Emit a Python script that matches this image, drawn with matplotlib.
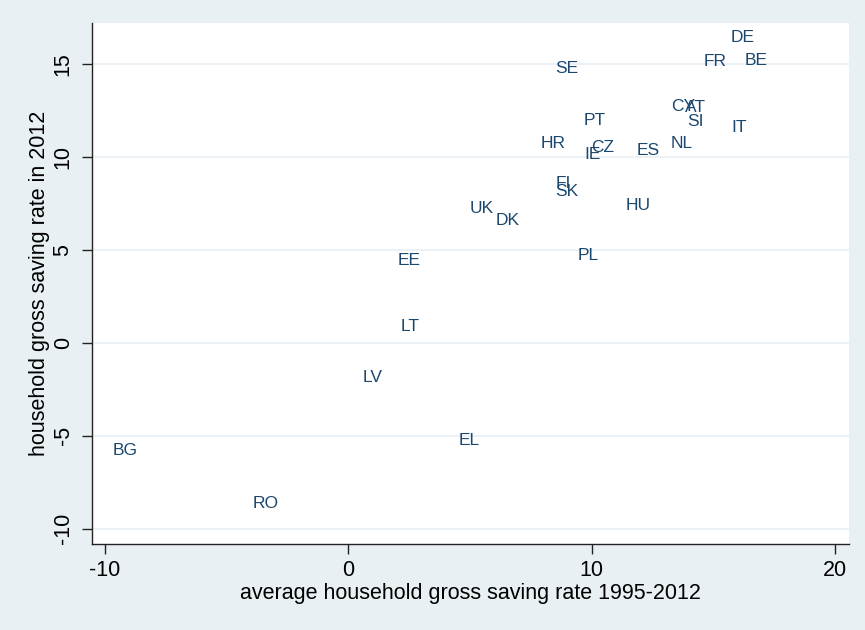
import matplotlib
matplotlib.use("Agg")
import matplotlib.pyplot as plt

# Country codes with average saving rate 1995-2012 (x) and 2012 rate (y)
countries = ["DE", "FR", "BE", "SE", "CY", "AT", "SI", "IT", "PT", "HR",
             "CZ", "IE", "ES", "NL", "FI", "SK", "UK", "DK", "HU", "PL",
             "EE", "LT", "LV", "EL", "BG", "RO"]
avg_rate = [15.70, 14.59, 16.28, 8.50, 13.27, 13.85, 13.93, 15.74, 9.69, 7.92,
            9.98, 9.69, 11.87, 13.23, 8.54, 8.50, 5.00, 6.07, 11.42, 9.44,
            2.04, 2.16, 0.60, 4.55, -9.69, -3.93]
rate_2012 = [16.45, 15.16, 15.22, 14.78, 12.74, 12.69, 11.94, 11.61, 11.99, 10.75,
             10.54, 10.16, 10.38, 10.75, 8.60, 8.17, 7.26, 6.61, 7.42, 4.73,
             4.46, 0.86, -1.88, -5.27, -5.81, -8.66]

xticks = [-10, 0, 10, 20]
yticks = [-10, -5, 0, 5, 10, 15]

plt.rcParams['font.family'] = ['Liberation Sans', 'DejaVu Sans']
plt.rcParams['axes.unicode_minus'] = False

bg = '#e9f0f3'
label_color = '#1a476f'

fig = plt.figure(figsize=(8.65, 6.3), dpi=100, facecolor=bg)
ax = fig.add_axes([0.106, 0.137, 0.876, 0.826])
ax.set_facecolor('white')

# labels only, no markers
for name, x, y in zip(countries, avg_rate, rate_2012):
    ax.text(x, y, name, ha='left', va='center', fontsize=12.5, color=label_color)

ax.set_xlim(-10.55, 20.6)
ax.set_ylim(-10.8, 17.2)
ax.set_xticks(xticks)
ax.set_yticks(yticks)
ax.set_yticklabels([str(v) for v in yticks], rotation=90, va='center')

ax.grid(axis='y', color=bg, linewidth=1.3)
ax.set_axisbelow(True)

for side in ['top', 'right']:
    ax.spines[side].set_visible(False)
for side in ['left', 'bottom']:
    ax.spines[side].set_color('#222222')
    ax.spines[side].set_linewidth(1.0)

ax.tick_params(axis='both', length=7, width=1, color='#222222', labelsize=15.5)
ax.tick_params(axis='x', pad=5)
ax.tick_params(axis='y', pad=6)

ax.set_xlabel('average household gross saving rate 1995-2012', fontsize=15.5, labelpad=1)
ax.set_ylabel('household gross saving rate in 2012', fontsize=15.5, labelpad=2)

plt.savefig('out.png', dpi=100, facecolor=bg)
